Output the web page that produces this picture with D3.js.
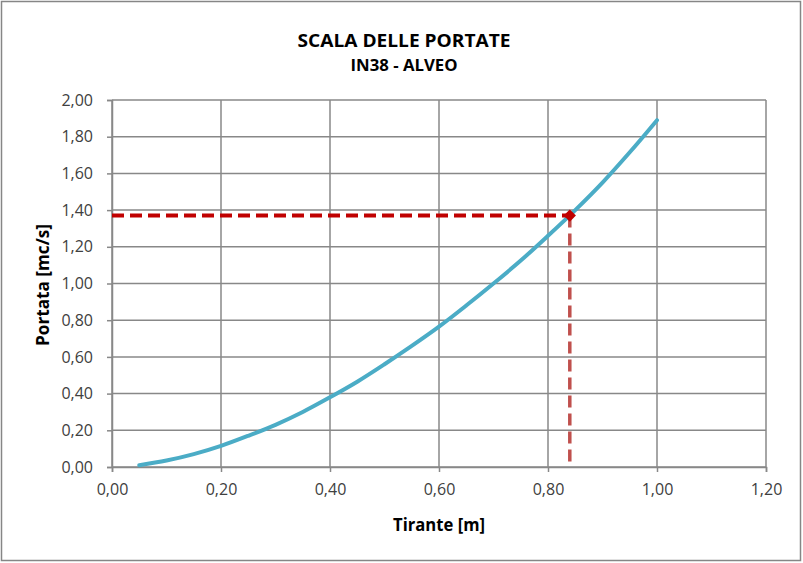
<!DOCTYPE html>
<html><head><meta charset="utf-8">
<script src="https://cdn.jsdelivr.net/npm/d3@7"></script>
<style>body{margin:0;background:#fff}svg{display:block}text{font-family:"Open Sans","Liberation Sans",sans-serif}</style>
</head><body><svg id="c" width="803" height="563"></svg>
<script>
const tirante = [0.05,0.10,0.15,0.20,0.25,0.30,0.35,0.40,0.45,0.50,0.55,0.60,0.65,0.70,0.75,0.80,0.85,0.90,0.95,1.00];
const portata = [0.01,0.035,0.07,0.115,0.17,0.23,0.30,0.38,0.465,0.56,0.66,0.765,0.88,1.00,1.125,1.26,1.40,1.55,1.715,1.89];
const puntoX = [0.84];
const puntoY = [1.37];
const xTicks = [0,0.2,0.4,0.6,0.8,1.0,1.2];
const yTicks = [0,0.2,0.4,0.6,0.8,1.0,1.2,1.4,1.6,1.8,2.0];
const title = "SCALA DELLE PORTATE", subtitle = "IN38 - ALVEO";
const xTitle = "Tirante [m]", yTitle = "Portata [mc/s]";

const svg = d3.select("#c");
const L=112, R=766, T=100, B=467;
const x = d3.scaleLinear().domain([0,1.2]).range([L,R]);
const y = d3.scaleLinear().domain([0,2]).range([B,T]);
const fmt = d => d3.format(".2f")(d).replace(".", ",");

svg.append("rect").attr("x",1.5).attr("y",1.5).attr("width",799).attr("height",559).attr("fill","#fff").attr("stroke","#868686").attr("stroke-width",1.5);

// grid
svg.append("g").selectAll("line").data(yTicks).join("line")
  .attr("x1",L).attr("x2",R).attr("y1",d=>y(d)).attr("y2",d=>y(d)).attr("stroke","#888").attr("stroke-width",1.5);
svg.append("g").selectAll("line").data(xTicks).join("line")
  .attr("y1",T).attr("y2",B).attr("x1",d=>x(d)).attr("x2",d=>x(d)).attr("stroke","#888").attr("stroke-width",1.5);

const xa = svg.append("g").attr("transform",`translate(0,${B})`).call(d3.axisBottom(x).tickValues(xTicks).tickFormat(fmt).tickSize(5).tickPadding(12));
const ya = svg.append("g").attr("transform",`translate(${L},0)`).call(d3.axisLeft(y).tickValues(yTicks).tickFormat(fmt).tickSize(5).tickPadding(14));
[xa,ya].forEach(a=>{a.select(".domain").attr("stroke","#888").attr("stroke-width",1.5);
  a.selectAll(".tick line").attr("stroke","#888").attr("stroke-width",1.5);
  a.selectAll("text").attr("font-size",16).attr("fill","#404040").style("font-family","'Open Sans',sans-serif");});

// curve
svg.append("path").datum(tirante.map((t,i)=>[t,portata[i]]))
  .attr("d",d3.line().x(d=>x(d[0])).y(d=>y(d[1])).curve(d3.curveCatmullRom))
  .attr("fill","none").attr("stroke","#4BACC6").attr("stroke-width",4).attr("stroke-linecap","round");

// dashed guides
svg.append("line").attr("x1",x(0)).attr("x2",x(puntoX[0])).attr("y1",y(puntoY[0])).attr("y2",y(puntoY[0]))
  .attr("stroke","#C00000").attr("stroke-width",4).attr("stroke-dasharray","12,6");
svg.append("line").attr("x1",x(puntoX[0])).attr("x2",x(puntoX[0])).attr("y1",y(puntoY[0])).attr("y2",y(0))
  .attr("stroke","#C0504D").attr("stroke-width",3.5).attr("stroke-dasharray","12,6");
svg.append("path").attr("d",d3.symbol(d3.symbolSquare,75))
  .attr("transform",`translate(${x(puntoX[0])},${y(puntoY[0])}) rotate(45)`).attr("fill","#C00000");

svg.append("text").attr("x",404).attr("y",47).attr("text-anchor","middle").attr("font-size",18).attr("font-weight","bold").attr("fill","#000").attr("textLength",213).attr("lengthAdjust","spacingAndGlyphs").text(title);
svg.append("text").attr("x",404).attr("y",71).attr("text-anchor","middle").attr("font-size",16).attr("font-weight","bold").attr("fill","#000").attr("textLength",107).attr("lengthAdjust","spacingAndGlyphs").text(subtitle);
svg.append("text").attr("x",439).attr("y",531).attr("text-anchor","middle").attr("font-size",17).attr("font-weight","bold").attr("fill","#000").attr("textLength",92).attr("lengthAdjust","spacingAndGlyphs").text(xTitle);
svg.append("text").attr("transform","translate(49,285) rotate(-90)").attr("text-anchor","middle").attr("font-size",17).attr("font-weight","bold").attr("fill","#000").attr("textLength",122).attr("lengthAdjust","spacingAndGlyphs").text(yTitle);
</script></body></html>
